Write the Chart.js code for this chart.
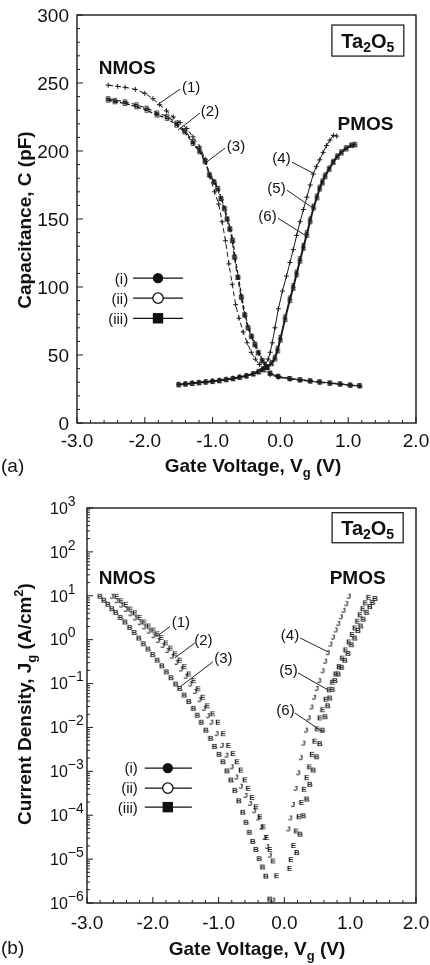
<!DOCTYPE html>
<html><head><meta charset="utf-8">
<script src="https://cdn.jsdelivr.net/npm/chart.js@4.4.1/dist/chart.umd.min.js"></script>
<style>
html,body{margin:0;padding:0;background:#fff;width:430px;height:965px;overflow:hidden}
#wa{position:absolute;left:0;top:0;width:430px;height:480px}
#wb{position:absolute;left:0;top:480px;width:430px;height:485px}
canvas{display:block}
</style></head><body>
<div id="wa"><canvas id="ca" width="430" height="480"></canvas></div>
<div id="wb"><canvas id="cb" width="430" height="485"></canvas></div>
<script>
// ---------- Panel (a): capacitance (pF) vs gate voltage (V) ----------
const capV1 = [-2.54,-2.40,-2.29,-2.14,-2.00,-1.88,-1.78,-1.68,-1.58,-1.48,-1.38,-1.29,-1.19,-1.11,-1.04,-0.97,-0.91,-0.86,-0.81,-0.76,-0.71,-0.66,-0.61,-0.55,-0.49,-0.43,-0.37,-0.31,-0.25,-0.15,-0.03,0.14,0.29,0.44,0.58,0.73,0.88,1.03,1.17];
const capC1 = [248.4,247.5,246.8,245.3,242.4,238.5,234.0,229.5,225.0,221.0,216.5,210.4,203.0,194.0,181.0,170.0,161.0,148.0,134.0,117.0,102.0,87.0,77.0,67.0,59.0,52.0,47.0,43.0,40.0,35.5,33.6,32.2,31.4,30.7,29.9,29.2,28.5,27.7,27.2];
const capV2 = [-2.54,-2.44,-2.29,-2.12,-1.97,-1.82,-1.67,-1.53,-1.41,-1.29,-1.19,-1.11,-1.05,-0.98,-0.93,-0.88,-0.83,-0.79,-0.75,-0.71,-0.68,-0.63,-0.58,-0.53,-0.48,-0.43,-0.38,-0.33,-0.27,-0.21,-0.15,-0.03,0.14,0.29,0.44,0.58,0.73,0.88,1.03,1.17];
const capC2 = [238.5,237.3,236.2,234.0,231.5,228.0,225.5,220.5,215.0,207.0,200.5,193.0,183.0,177.5,172.5,165.0,157.5,150.0,142.5,134.0,122.0,107.0,92.5,79.5,70.0,63.5,57.5,51.5,45.5,41.0,36.8,34.4,32.8,31.9,31.1,30.3,29.5,28.8,28.0,27.5];
const capV3 = [-2.54,-2.44,-2.29,-2.12,-1.97,-1.82,-1.67,-1.53,-1.41,-1.29,-1.19,-1.11,-1.04,-0.97,-0.92,-0.87,-0.82,-0.78,-0.74,-0.70,-0.67,-0.62,-0.57,-0.52,-0.47,-0.42,-0.37,-0.32,-0.26,-0.20,-0.15,-0.03,0.14,0.29,0.44,0.58,0.73,0.88,1.03,1.17];
const capC3 = [237.4,236.2,235.0,232.5,230.0,226.4,224.0,219.0,214.0,205.6,199.4,192.0,182.3,177.0,172.5,165.0,157.8,150.0,143.0,134.4,122.1,107.4,92.7,79.5,70.0,64.0,58.0,52.0,46.0,41.0,36.5,34.2,32.6,31.7,30.9,30.1,29.3,28.6,27.8,27.3];
const capV4 = [-1.50,-1.40,-1.30,-1.20,-1.10,-1.00,-0.90,-0.80,-0.70,-0.60,-0.50,-0.40,-0.33,-0.27,-0.22,-0.18,-0.15,-0.12,-0.08,-0.03,0.03,0.09,0.14,0.19,0.24,0.29,0.34,0.39,0.44,0.485,0.53,0.58,0.63,0.68,0.73,0.78,0.83];
const capC4 = [28.5,29.0,29.5,30.0,30.5,31.0,31.5,32.2,33.0,34.0,35.0,36.5,38.0,40.0,43.0,47.0,52.0,59.0,70.0,84.0,97.0,108.0,118.0,127.5,138.0,148.0,157.0,166.0,175.0,183.0,188.5,193.5,199.0,204.0,208.0,211.5,211.0];
const capV56 = [-1.50,-1.40,-1.30,-1.20,-1.10,-1.00,-0.90,-0.80,-0.70,-0.60,-0.50,-0.40,-0.32,-0.25,-0.19,-0.13,-0.08,-0.04,0.00,0.07,0.14,0.19,0.24,0.29,0.34,0.39,0.44,0.49,0.54,0.58,0.62,0.66,0.72,0.78,0.84,0.90,0.97,1.05,1.10];
const capC5 = [28.3,28.8,29.3,29.8,30.3,30.8,31.3,32.1,32.8,33.8,34.8,36.3,37.8,39.5,41.5,44.5,48.5,55.0,63.0,78.0,92.0,101.0,111.0,121.0,130.5,140.0,150.0,159.5,167.0,173.5,178.0,182.5,187.5,192.5,196.5,199.5,202.5,204.5,205.0];
const capC6 = [28.0,28.5,29.0,29.5,30.0,30.5,31.0,31.8,32.5,33.5,34.5,36.0,37.5,39.0,41.0,43.5,47.0,53.0,61.0,76.0,90.0,99.0,109.0,119.0,128.5,138.0,148.0,158.0,165.5,172.0,176.5,181.0,186.5,191.5,195.5,198.5,201.5,204.0,204.5];

const xTicks = [-3,-2,-1,0,1,2];
const xTickLabels = ['-3.0','-2.0','-1.0','0.0','1.0','2.0'];
const yTicksA = [0,50,100,150,200,250,300];
const yTickLabelsA = ['0','50','100','150','200','250','300'];

// ---------- Panel (b): current density (A/cm2) vs gate voltage (V) ----------
const curV1 = [-2.55,-2.48,-2.41,-2.34,-2.27,-2.20,-2.13,-2.06,-1.99,-1.93,-1.87,-1.80,-1.73,-1.66,-1.59,-1.52,-1.45,-1.38,-1.31,-1.24,-1.17,-1.09,-1.01,-0.93,-0.85,-0.78,-0.72,-0.66,-0.60,-0.55,-0.49,-0.43,-0.37,-0.32,-0.27,-0.22,-0.17,-0.12];
const curJ1 = [1.0e1,7.9e0,6.5e0,5.1e0,4.2e0,3.3e0,2.6e0,2.1e0,1.7e0,1.4e0,1.15e0,8.7e-1,6.6e-1,4.9e-1,3.5e-1,2.5e-1,1.7e-1,1.2e-1,7.8e-2,5.0e-2,3.2e-2,2.1e-2,1.35e-2,7.4e-3,4.0e-3,2.6e-3,1.7e-3,1.1e-3,6.6e-4,4.2e-4,2.6e-4,1.6e-4,9.5e-5,5.6e-5,3.2e-5,1.7e-5,9.3e-6,4.3e-6];
const curV2 = [-2.62,-2.55,-2.48,-2.41,-2.34,-2.27,-2.20,-2.13,-2.06,-1.99,-1.92,-1.85,-1.78,-1.71,-1.64,-1.57,-1.50,-1.43,-1.36,-1.29,-1.22,-1.16,-1.11,-1.03,-0.95,-0.88,-0.80,-0.73,-0.66,-0.59,-0.52,-0.46,-0.40,-0.35,-0.30,-0.26,-0.22,-0.17];
const curJ2 = [1.0e1,7.9e0,6.3e0,5.0e0,4.0e0,3.2e0,2.5e0,2.0e0,1.6e0,1.26e0,9.8e-1,7.6e-1,5.8e-1,4.3e-1,3.1e-1,2.2e-1,1.5e-1,1.0e-1,6.8e-2,4.4e-2,2.8e-2,1.9e-2,1.35e-2,7.4e-3,4.0e-3,2.4e-3,1.3e-3,7.6e-4,4.7e-4,2.9e-4,1.9e-4,1.3e-4,8.9e-5,5.5e-5,3.2e-5,2.0e-5,1.26e-5,1.2e-6];
const curV3 = [-2.80,-2.74,-2.68,-2.62,-2.56,-2.49,-2.42,-2.35,-2.28,-2.21,-2.14,-2.07,-2.00,-1.93,-1.86,-1.79,-1.72,-1.65,-1.59,-1.52,-1.45,-1.38,-1.32,-1.26,-1.19,-1.12,-1.06,-0.99,-0.93,-0.87,-0.81,-0.75,-0.69,-0.63,-0.58,-0.53,-0.48,-0.43,-0.38,-0.33,-0.28,-0.22];
const curJ3 = [1.0e1,8.1e0,6.6e0,5.2e0,4.3e0,3.3e0,2.6e0,1.95e0,1.5e0,1.12e0,8.3e-1,6.3e-1,4.7e-1,3.5e-1,2.6e-1,1.9e-1,1.4e-1,1.0e-1,7.9e-2,5.6e-2,4.0e-2,2.8e-2,1.95e-2,1.35e-2,8.9e-3,5.8e-3,3.8e-3,2.5e-3,1.7e-3,1.05e-3,6.5e-4,3.8e-4,2.2e-4,1.2e-4,7.1e-5,4.2e-5,2.6e-5,1.7e-5,1.05e-5,6.8e-6,4.2e-6,1.26e-6];
const curV4 = [0.98,0.94,0.90,0.86,0.82,0.78,0.74,0.70,0.66,0.62,0.58,0.53,0.49,0.45,0.41,0.37,0.33,0.29,0.25,0.21,0.17,0.13,0.09,0.06];
const curJ4 = [1.0e1,6.8e0,4.8e0,3.4e0,2.4e0,1.7e0,1.17e0,8.1e-1,5.2e-1,3.3e-1,2.0e-1,1.2e-1,7.9e-2,5.0e-2,3.0e-2,1.7e-2,8.9e-3,4.5e-3,2.1e-3,9.5e-4,4.2e-4,1.8e-4,8.9e-5,5.0e-5];
const curV5 = [1.28,1.23,1.19,1.15,1.11,1.07,1.03,0.98,0.93,0.88,0.83,0.78,0.73,0.68,0.63,0.58,0.54,0.50,0.46,0.42,0.38,0.34,0.30,0.26,0.22,0.18,0.14,0.10,0.08];
const curJ5 = [9.5e0,7.1e0,5.2e0,3.8e0,2.7e0,1.9e0,1.35e0,9.1e-1,6.0e-1,3.9e-1,2.5e-1,1.7e-1,1.1e-1,7.4e-2,4.5e-2,2.6e-2,1.7e-2,9.5e-3,5.0e-3,2.5e-3,1.3e-3,7.4e-4,4.0e-4,2.0e-4,9.5e-5,4.5e-5,2.1e-5,1.0e-5,6.3e-6];
const curV6 = [1.38,1.34,1.30,1.25,1.20,1.16,1.12,1.07,1.02,0.97,0.92,0.87,0.82,0.77,0.73,0.69,0.66,0.62,0.58,0.54,0.49,0.44,0.39,0.34,0.29,0.24,0.19];
const curJ6 = [8.9e0,7.2e0,5.8e0,4.3e0,3.0e0,2.1e0,1.66e0,1.12e0,7.9e-1,5.0e-1,3.5e-1,2.4e-1,1.7e-1,1.2e-1,7.6e-2,4.8e-2,3.2e-2,1.8e-2,8.9e-3,4.4e-3,2.2e-3,1.1e-3,5.2e-4,2.4e-4,1.0e-4,3.8e-5,1.45e-5];

const yExpB = [3,2,1,0,-1,-2,-3,-4,-5,-6];

const curveLabels = ['(1)','(2)','(3)','(4)','(5)','(6)'];
const legendLabels = ['(i)','(ii)','(iii)'];

// annotation anchors, in data units of each panel
const labelPosA = [[-1.317,247],[-1.038,230],[-0.655,204.3],[0.016,195.5],[-0.058,173.4],[-0.19,152.8]];
const leaderA = [[-1.478,245.5,-1.82,233.8],[-1.186,227.9,-1.51,215.4],[-0.817,202.1,-1.112,191.1],[0.171,191.8,0.481,183.7],[0.097,171.2,0.481,158],[-0.035,150.6,0.363,138.1]];
const labelPosB = [[-1.574,2.58],[-1.231,0.989],[-0.927,0.384],[0.085,1.285],[0.062,0.204],[0.017,0.02495]];
const leaderB = [[-1.741,1.99,-1.944,1.175],[-1.361,0.843,-1.665,0.384],[-1.087,0.311,-1.589,0.0836],[0.237,1.097,0.664,0.526],[0.207,0.1746,0.664,0.0714],[0.161,0.0213,0.588,0.00783]];

const FONT = '"Liberation Sans", Arial, Helvetica, sans-serif';
const INK = '#111';

function glyph(ch, px){
  const c = document.createElement('canvas');
  c.width = px + 2; c.height = px + 2;
  const g = c.getContext('2d');
  g.fillStyle = '#1a1a1a';
  g.font = 'bold ' + px + 'px ' + FONT;
  g.textAlign = 'center'; g.textBaseline = 'middle';
  g.fillText(ch, c.width/2, c.height/2 + 0.5);
  return c;
}
function pts(xs, ys){ return xs.map((v,i)=>({x:v, y:ys[i]})); }

function fnt(p){ return (p.b ? 'bold ' : '') + p.s + 'px ' + FONT; }
function drawRich(ctx, parts, x, y, align){
  let w = 0;
  for (const p of parts){ ctx.font = fnt(p); w += ctx.measureText(p.t).width; }
  let cx = align === 'center' ? x - w/2 : (align === 'right' ? x - w : x);
  ctx.textAlign = 'left'; ctx.textBaseline = 'alphabetic';
  for (const p of parts){ ctx.font = fnt(p); ctx.fillText(p.t, cx, y + (p.dy || 0)); cx += ctx.measureText(p.t).width; }
}
function txt(ctx, s, x, y, size, bold, align){
  ctx.font = (bold ? 'bold ' : '') + size + 'px ' + FONT;
  ctx.textAlign = align || 'center'; ctx.textBaseline = 'alphabetic';
  ctx.fillText(s, x, y + 0.36*size);
}
function line(ctx, x1, y1, x2, y2, w){
  ctx.lineWidth = w || 1; ctx.beginPath(); ctx.moveTo(x1,y1); ctx.lineTo(x2,y2); ctx.stroke();
}
function drawLegend(ctx, xs, ys, txtRight){
  // xs: [lineStart, marker, lineEnd]; ys: rows
  for (let i = 0; i < 3; i++){
    const y = ys[i];
    ctx.fillStyle = INK;
    txt(ctx, legendLabels[i], txtRight, y, 15, false, 'right');
    ctx.strokeStyle = INK;
    line(ctx, xs[0], y, xs[2], y, 1.3);
    if (i === 0){ ctx.beginPath(); ctx.arc(xs[1], y, 5.2, 0, 2*Math.PI); ctx.fill(); }
    if (i === 1){ ctx.beginPath(); ctx.arc(xs[1], y, 5.2, 0, 2*Math.PI); ctx.fillStyle='#fff'; ctx.fill(); ctx.lineWidth=1.3; ctx.stroke(); ctx.fillStyle = INK; }
    if (i === 2){ ctx.fillRect(xs[1]-5.2, y-5.2, 10.4, 10.4); }
  }
}
function ta2o5(ctx, x1, y1, x2, y2){
  ctx.strokeStyle = '#222'; ctx.lineWidth = 1.3;
  ctx.strokeRect(x1, y1, x2-x1, y2-y1);
  ctx.fillStyle = INK;
  drawRich(ctx, [{t:'Ta',s:20,b:1},{t:'2',s:14,b:1,dy:4},{t:'O',s:20,b:1},{t:'5',s:14,b:1,dy:4}], (x1+x2)/2, (y1+y2)/2 + 7, 'center');
}

const decorA = {
  id: 'decorA',
  afterDatasetsDraw(chart){
    const {ctx, chartArea:a, scales:{x, y}} = chart;
    ctx.save();
    ctx.strokeStyle = '#1a1a1a'; ctx.fillStyle = INK;
    // frame
    ctx.lineWidth = 1.4;
    ctx.strokeRect(a.left, a.top, a.right - a.left, a.bottom - a.top);
    // x ticks (major 1.0, minor 0.2), inward
    for (let k = 0; k <= 25; k++){
      const v = -3 + k*0.2; const px = x.getPixelForValue(v);
      const major = k % 5 === 0;
      line(ctx, px, a.bottom, px, a.bottom - (major ? 6 : 3), 1);
    }
    // y ticks (major 50, minor 10)
    for (let k = 0; k <= 30; k++){
      const py = y.getPixelForValue(k*10);
      const major = k % 5 === 0;
      line(ctx, a.left, py, a.left + (major ? 6 : 3), py, 1);
    }
    // tick labels
    xTicks.forEach((v,i)=>{ ctx.font = '19px ' + FONT; ctx.textAlign='center'; ctx.textBaseline='alphabetic'; ctx.fillText(xTickLabels[i], x.getPixelForValue(v), a.bottom + 24); });
    yTicksA.forEach((v,i)=>{ ctx.font = '19px ' + FONT; ctx.textAlign='right'; ctx.textBaseline='alphabetic'; ctx.fillText(yTickLabelsA[i], a.left - 8, y.getPixelForValue(v) + 6.8); });
    // axis titles
    drawRich(ctx, [{t:'Gate Voltage, V',s:19,b:1},{t:'g',s:13,b:1,dy:5},{t:' (V)',s:19,b:1}], 253, 471.5, 'center');
    ctx.save(); ctx.translate(31, 220); ctx.rotate(-Math.PI/2);
    drawRich(ctx, [{t:'Capacitance, C (pF)',s:19,b:1}], 0, 0, 'center');
    ctx.restore();
    txt(ctx, '(a)', 1, 465, 19, false, 'left');
    // annotations
    txt(ctx, 'NMOS', x.getPixelForValue(-2.26), y.getPixelForValue(261.7), 19, true);
    txt(ctx, 'PMOS', x.getPixelForValue(1.255), y.getPixelForValue(220.5), 19, true);
    ta2o5(ctx, x.getPixelForValue(0.76), y.getPixelForValue(292.6), x.getPixelForValue(1.82), y.getPixelForValue(269.8));
    ctx.strokeStyle = '#222'; ctx.fillStyle = INK;
    curveLabels.forEach((s,i)=>{
      txt(ctx, s, x.getPixelForValue(labelPosA[i][0]), y.getPixelForValue(labelPosA[i][1]), 15, false);
      const L = leaderA[i];
      line(ctx, x.getPixelForValue(L[0]), y.getPixelForValue(L[1]), x.getPixelForValue(L[2]), y.getPixelForValue(L[3]), 1);
    });
    drawLegend(ctx, [x.getPixelForValue(-2.173), x.getPixelForValue(-1.805), x.getPixelForValue(-1.436)],
      [y.getPixelForValue(106.5), y.getPixelForValue(91.8), y.getPixelForValue(77)], x.getPixelForValue(-2.246));
    ctx.restore();
  }
};

const decorB = {
  id: 'decorB',
  afterDatasetsDraw(chart){
    const {ctx, chartArea:a, scales:{x, y}} = chart;
    ctx.save();
    ctx.strokeStyle = '#1a1a1a'; ctx.fillStyle = INK;
    ctx.lineWidth = 1.4;
    ctx.strokeRect(a.left, a.top, a.right - a.left, a.bottom - a.top);
    for (let k = 0; k <= 25; k++){
      const v = -3 + k*0.2; const px = x.getPixelForValue(v);
      const major = k % 5 === 0;
      line(ctx, px, a.bottom, px, a.bottom - (major ? 6 : 3), 1);
    }
    for (let e = -6; e <= 3; e++){
      line(ctx, a.left, y.getPixelForValue(Math.pow(10,e)), a.left + 6, y.getPixelForValue(Math.pow(10,e)), 1);
      if (e < 3) for (let m = 2; m <= 9; m++){
        const py = y.getPixelForValue(m*Math.pow(10,e));
        line(ctx, a.left, py, a.left + 3, py, 1);
      }
    }
    xTicks.forEach((v,i)=>{ ctx.font = '19px ' + FONT; ctx.textAlign='center'; ctx.textBaseline='alphabetic'; ctx.fillText(xTickLabels[i], x.getPixelForValue(v), a.bottom + 25.5); });
    yExpB.forEach(e=>{
      const py = y.getPixelForValue(Math.pow(10,e));
      drawRich(ctx, [{t:'10',s:16},{t:String(e).replace('-','\u2212'),s:14,dy:-8}], 50, py + 5.8, 'left');
    });
    drawRich(ctx, [{t:'Gate Voltage, V',s:19,b:1},{t:'g',s:13,b:1,dy:5},{t:' (V)',s:19,b:1}], 257, 475, 'center');
    ctx.save(); ctx.translate(31, 224); ctx.rotate(-Math.PI/2);
    drawRich(ctx, [{t:'Current Density, J',s:19,b:1},{t:'g',s:13,b:1,dy:5},{t:' (A/cm',s:19,b:1},{t:'2',s:13,b:1,dy:-8},{t:')',s:19,b:1}], 0, 0, 'center');
    ctx.restore();
    txt(ctx, '(b)', 1, 467, 19, false, 'left');
    txt(ctx, 'NMOS', x.getPixelForValue(-2.388), y.getPixelForValue(27), 19, true);
    txt(ctx, 'PMOS', x.getPixelForValue(1.113), y.getPixelForValue(27), 19, true);
    ta2o5(ctx, x.getPixelForValue(0.725), y.getPixelForValue(782), x.getPixelForValue(1.805), y.getPixelForValue(161.5));
    ctx.strokeStyle = '#222'; ctx.fillStyle = INK;
    curveLabels.forEach((s,i)=>{
      txt(ctx, s, x.getPixelForValue(labelPosB[i][0]), y.getPixelForValue(labelPosB[i][1]), 15, false);
      const L = leaderB[i];
      line(ctx, x.getPixelForValue(L[0]), y.getPixelForValue(L[1]), x.getPixelForValue(L[2]), y.getPixelForValue(L[3]), 1);
    });
    drawLegend(ctx, [x.getPixelForValue(-2.122), x.getPixelForValue(-1.772), x.getPixelForValue(-1.406)],
      [y.getPixelForValue(1.186e-3), y.getPixelForValue(4.15e-4), y.getPixelForValue(1.528e-4)], x.getPixelForValue(-2.228));
    ctx.restore();
  }
};

const gB7 = glyph('B', 7), gE7 = glyph('E', 7);
const gB = glyph('B', 8), gE = glyph('E', 8), gJ = glyph('J', 8);

function lineDs(data, dash, w, style, r){
  return { data, showLine:true, tension:0, borderColor:'#1a1a1a', borderWidth:w, borderDash:dash,
    pointStyle:style, pointRadius:r, pointBorderColor:'#1a1a1a', pointBackgroundColor:'#1a1a1a', pointBorderWidth:1 };
}
function dotDs(data, style){
  return { data, showLine:false, pointStyle:style, pointRadius:4, pointBorderColor:'#1a1a1a', pointBackgroundColor:'#1a1a1a' };
}

const common = (pad)=>({
  responsive:false, animation:false, devicePixelRatio:1, events:[],
  layout:{padding:pad},
  plugins:{legend:{display:false}, tooltip:{enabled:false}}
});

new Chart(document.getElementById('ca'), {
  type:'scatter',
  data:{ datasets:[
    lineDs(pts(capV1, capC1), [5,3], 1, 'cross', 2.5),
    lineDs(pts(capV2, capC2), [5,3], 1.1, gB7, 3),
    lineDs(pts(capV3, capC3), [4,2], 1.3, gB7, 3),
    lineDs(pts(capV4, capC4), [], 1, 'cross', 2.5),
    lineDs(pts(capV56, capC5), [], 1.2, gE7, 3),
    lineDs(pts(capV56, capC6), [], 1.4, gB7, 3)
  ]},
  options: Object.assign(common({left:77, right:14, top:15, bottom:57}), {
    scales:{
      x:{type:'linear', min:-3, max:2, display:false},
      y:{type:'linear', min:0, max:300, display:false}
    }
  }),
  plugins:[decorA]
});

new Chart(document.getElementById('cb'), {
  type:'scatter',
  data:{ datasets:[
    dotDs(pts(curV1, curJ1), gE),
    dotDs(pts(curV2, curJ2), gJ),
    dotDs(pts(curV3, curJ3), gB),
    dotDs(pts(curV4, curJ4), gJ),
    dotDs(pts(curV5, curJ5), gE),
    dotDs(pts(curV6, curJ6), gB)
  ]},
  options: Object.assign(common({left:87, right:14, top:28, bottom:62}), {
    scales:{
      x:{type:'linear', min:-3, max:2, display:false},
      y:{type:'logarithmic', min:1e-6, max:1e3, display:false}
    }
  }),
  plugins:[decorB]
});
</script>
</body></html>
